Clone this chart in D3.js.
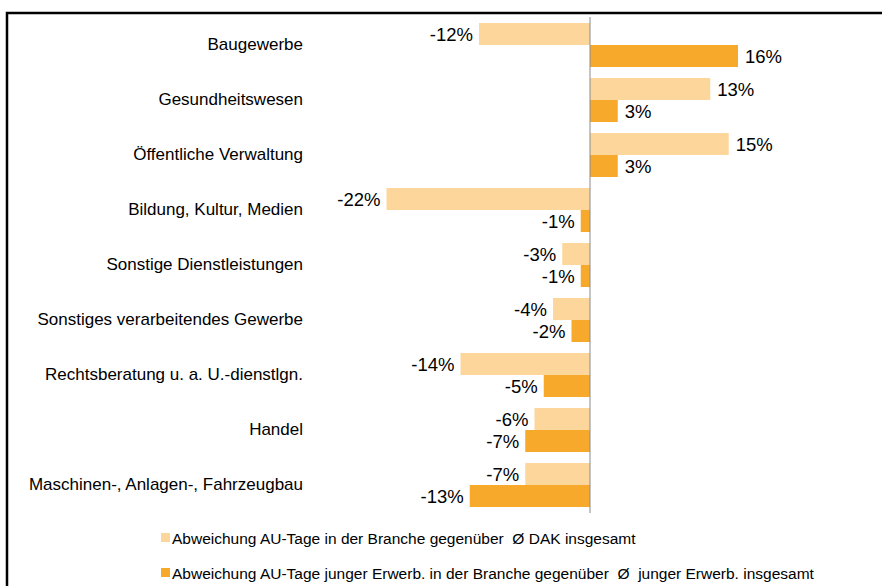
<!DOCTYPE html>
<html>
<head>
<meta charset="utf-8">
<script src="https://cdn.jsdelivr.net/npm/d3@7"></script>
<style>
  html, body { margin: 0; padding: 0; background: #fff; }
  svg { display: block; font-family: "Liberation Sans", Arial, sans-serif; }
  .legend-text { white-space: pre; }
</style>
</head>
<body>
<svg id="chart" width="882" height="586"></svg>
<script>
// Industries (top to bottom)
const categories = [
  "Baugewerbe",
  "Gesundheitswesen",
  "Öffentliche Verwaltung",
  "Bildung, Kultur, Medien",
  "Sonstige Dienstleistungen",
  "Sonstiges verarbeitendes Gewerbe",
  "Rechtsberatung u. a. U.-dienstlgn.",
  "Handel",
  "Maschinen-, Anlagen-, Fahrzeugbau"
];

// Deviation of sick-leave days in the industry vs. DAK overall (%)
const allInsured = [-12, 13, 15, -22, -3, -4, -14, -6, -7];
// Deviation for young employees in the industry vs. all young employees (%)
const youngEmployees = [16, 3, 3, -1, -1, -2, -5, -7, -13];

const seriesNames = [
  "Abweichung AU-Tage in der Branche gegenüber  Ø DAK insgesamt",
  "Abweichung AU-Tage junger Erwerb. in der Branche gegenüber  Ø  junger Erwerb. insgesamt"
];
const seriesColors = ["#FDD69C", "#F6A92A"];

const svg = d3.select("#chart");

// Frame
svg.append("rect")
  .attr("x", 7).attr("y", 13)
  .attr("width", 900).attr("height", 600)
  .attr("fill", "none")
  .attr("stroke", "#000")
  .attr("stroke-width", 2.5);

const x = d3.scaleLinear().domain([-25, 20]).range([590 - 25 * 9.25, 590 + 20 * 9.25]);
const y = d3.scaleBand().domain(categories).range([17.5, 512.5])
  .paddingInner(0.2).paddingOuter(0.1);
const ySub = d3.scaleBand().domain([0, 1]).range([0, y.bandwidth()]);

const rows = categories.map((c, i) => ({ cat: c, vals: [allInsured[i], youngEmployees[i]] }));

const groups = svg.append("g").selectAll("g")
  .data(rows).join("g")
  .attr("transform", d => `translate(0,${y(d.cat)})`);

groups.selectAll("rect")
  .data(d => d.vals.map((v, k) => ({ v, k })))
  .join("rect")
  .attr("x", d => x(Math.min(0, d.v)))
  .attr("y", d => ySub(d.k))
  .attr("width", d => Math.abs(x(d.v) - x(0)))
  .attr("height", ySub.bandwidth())
  .attr("fill", d => seriesColors[d.k]);

groups.selectAll("text.val")
  .data(d => d.vals.map((v, k) => ({ v, k })))
  .join("text")
  .attr("class", "val")
  .attr("x", d => d.v < 0 ? x(d.v) - 6 : x(d.v) + 7)
  .attr("y", d => ySub(d.k) + ySub.bandwidth() / 2 + 6.5)
  .attr("text-anchor", d => d.v < 0 ? "end" : "start")
  .attr("font-size", "18.5px")
  .attr("fill", "#000")
  .text(d => d.v + "%");

// Category labels
svg.append("g").selectAll("text")
  .data(categories).join("text")
  .attr("x", 303)
  .attr("y", d => y(d) + y.bandwidth() / 2 + 5)
  .attr("text-anchor", "end")
  .attr("font-size", "17px")
  .attr("fill", "#000")
  .text(d => d);

// Zero axis line
svg.append("line")
  .attr("x1", x(0)).attr("x2", x(0))
  .attr("y1", 17).attr("y2", 513)
  .attr("stroke", "#8a8a8a")
  .attr("stroke-width", 1);

// Legend
const legend = svg.append("g").selectAll("g")
  .data(seriesNames).join("g")
  .attr("transform", (d, i) => `translate(161,${538 + i * 35})`);
legend.append("rect")
  .attr("x", 0).attr("y", -5)
  .attr("width", 9).attr("height", 9)
  .attr("fill", (d, i) => seriesColors[i]);
legend.append("text")
  .attr("class", "legend-text")
  .attr("x", 11).attr("y", 5.5)
  .attr("font-size", "15.5px")
  .attr("fill", "#000")
  .text(d => d);
</script>
</body>
</html>
